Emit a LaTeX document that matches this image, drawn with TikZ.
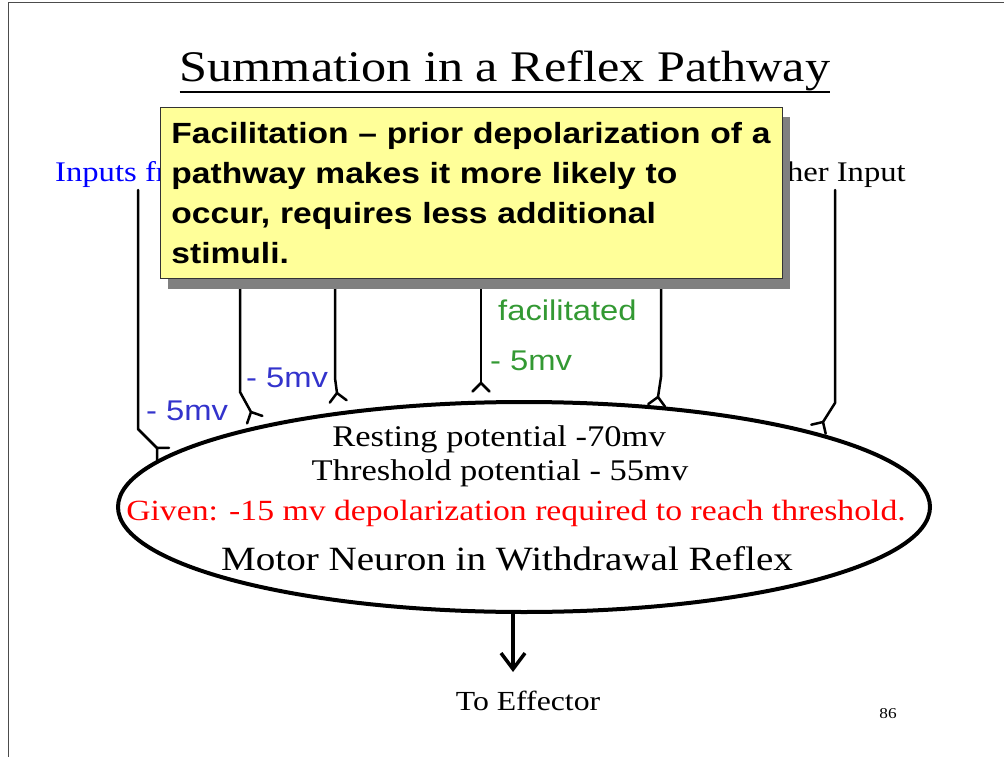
\documentclass[tikz,border=0pt]{standalone}
\usepackage{fontspec}
\setmainfont[FakeStretch=1.15]{Liberation Serif}
\setsansfont[FakeStretch=1.15]{Liberation Sans}
\usetikzlibrary{shapes.geometric,arrows.meta,shadows}
\definecolor{noteyellow}{HTML}{FFFF99}
\definecolor{mvblue}{HTML}{3333CC}
\definecolor{mvgreen}{HTML}{339933}
\definecolor{shadowgray}{HTML}{808080}
\newcommand{\fsize}[1]{\fontsize{#1}{#1}\selectfont}

\begin{document}
\begin{tikzpicture}[x=1pt,y=-1pt,
    axon/.style={line width=2.5pt,line cap=round,line join=round},
    mvlabel/.style={anchor=base west,inner sep=0pt,font=\sffamily\fsize{28.5}},
    bodytext/.style={anchor=base,inner sep=0pt}]
    \useasboundingbox (0,0) rectangle (1004,757);
    % slide frame
    \draw[line width=1pt,black!70] (8,757) -- (8,3) -- (1004,3);

    % title
    \node[bodytext,font=\fsize{43.7}] (title) at (505,82) {Summation in a Reflex Pathway};
    \draw[line width=2pt] (title.south west) -- (title.south east);

    % inputs
    \node[anchor=base west,inner sep=0pt,font=\fsize{28.4},blue] (inleft) at (55,181) {Inputs from};
    \node[anchor=base east,inner sep=0pt,font=\fsize{28.4}] (inright) at (906,181) {Other Input};

    % axons ending in synapses
    \coordinate (a1) at (138,190); \coordinate (b1) at (138,429); \coordinate (s1) at (157,448);
    \coordinate (a2) at (240,270); \coordinate (b2) at (240,392); \coordinate (s2) at (251,412);
    \coordinate (a3) at (335,270); \coordinate (b3) at (335,378); \coordinate (s3) at (337,393);
    \coordinate (a4) at (481,270); \coordinate (b4) at (481,375); \coordinate (s4) at (481,383);
    \coordinate (a5) at (661,270); \coordinate (b5) at (661,377); \coordinate (s5) at (658,397);
    \coordinate (a6) at (835,190); \coordinate (b6) at (835,403); \coordinate (s6) at (823,422);
    \foreach \i in {1,...,6}
        \draw[axon] (a\i) -- (b\i) -- (s\i);
    \foreach \s/\d in {s1/44,s2/64,s3/82,s4/90,s5/99,s6/122}
        \draw[axon] (\s) -- ++({\d-45}:12) (\s) -- ++({\d+45}:12);

    \node[mvlabel,mvblue] (mv1) at (146,420) {- 5mv};
    \node[mvlabel,mvblue] (mv2) at (246,387) {- 5mv};
    \node[mvlabel,mvgreen] (facil) at (498,320) {facilitated};
    \node[mvlabel,mvgreen] (mv3) at (490,370) {- 5mv};

    % motor neuron
    \node[draw,ellipse,line width=4pt,minimum width=812pt,minimum height=210pt,inner sep=0pt] (neuron) at (524,507) {};
    \node[bodytext,font=\fsize{30}] (rest) at (499,446) {Resting potential -70mv};
    \node[bodytext,font=\fsize{30}] (thresh) at (500,480) {Threshold potential - 55mv};
    \node[bodytext,font=\fsize{29.3},red] (given) at (516,520) {Given: -15 mv depolarization required to reach threshold.};
    \node[bodytext,font=\fsize{34}] (motor) at (507,570) {Motor Neuron in Withdrawal Reflex};

    % output
    \node[bodytext,font=\fsize{27.6}] (effector) at (528,710) {To Effector};
    \coordinate (tip) at (513,672);
    \draw[line width=3.5pt,-{Straight Barb[length=16pt,width=24pt]}] (neuron.south -| tip) -- (tip);
    \node[bodytext,font=\fsize{15}] (page) at (888,718) {86};

    % note box
    \node[anchor=north west,draw=black!80,line width=0.8pt,fill=noteyellow,
        drop shadow={shadow xshift=8pt,shadow yshift=-10pt,fill=shadowgray,opacity=1},
        text width=600pt,inner xsep=11pt,inner ysep=15pt,align=left,
        font=\sffamily\bfseries\fontsize{29.2}{40}\selectfont] (note) at (160,107)
        {Facilitation – prior depolarization of a\\ pathway makes it more likely to\\ occur, requires less additional\\ stimuli.};
\end{tikzpicture}
\end{document}
